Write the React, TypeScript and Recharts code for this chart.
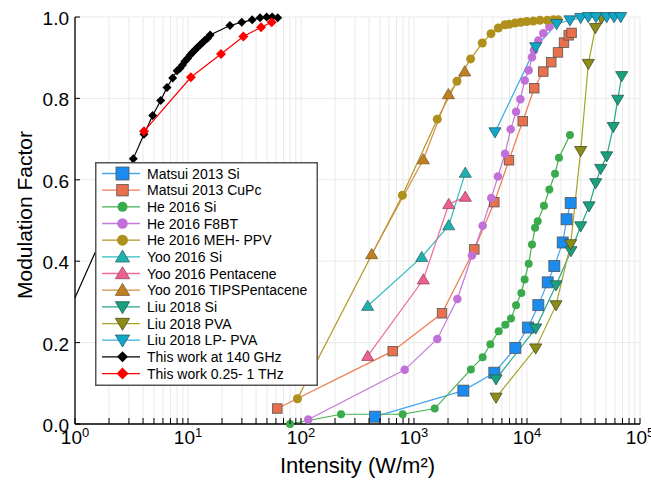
import React from 'react';
import { LineChart, Line, XAxis, YAxis, CartesianGrid, Label } from 'recharts';

// intensity (W/m²) and modulation factor
const matsuiSiI = [452, 2734, 5140, 7890, 10230, 12600, 15250, 17450, 20700, 22400, 24350];
const matsuiSiM = [0.018, 0.082, 0.126, 0.187, 0.237, 0.292, 0.348, 0.388, 0.446, 0.503, 0.543];

const matsuiCuPcI = [61.7, 648, 1770, 3420, 5140, 6930, 9160, 11600, 13940, 16400, 18800, 21250, 23400, 24800];
const matsuiCuPcM = [0.038, 0.179, 0.272, 0.429, 0.545, 0.648, 0.744, 0.825, 0.866, 0.889, 0.913, 0.937, 0.955, 0.961];

const heSiI = [80, 226, 794, 1525, 3190, 4050, 4740, 5620, 6430, 7220, 8000, 8910, 9530, 10350, 11070, 11780, 12440, 14130, 15770, 17700, 19190, 24000];
const heSiM = [0.0, 0.024, 0.024, 0.038, 0.134, 0.164, 0.196, 0.228, 0.244, 0.259, 0.292, 0.322, 0.355, 0.394, 0.441, 0.482, 0.498, 0.536, 0.576, 0.615, 0.654, 0.71];

const heF8btI = [116, 827, 1608, 2420, 3260, 4050, 4830, 5530, 6390, 7170, 8000, 8740, 9550, 10350, 11070, 11530, 12590, 13940, 15780];
const heF8btM = [0.011, 0.133, 0.209, 0.307, 0.414, 0.487, 0.555, 0.608, 0.664, 0.724, 0.767, 0.798, 0.844, 0.869, 0.901, 0.918, 0.942, 0.96, 0.976];

const heMehI = [93, 790, 1608, 2400, 3170, 4020, 4800, 5570, 6390, 6970, 7830, 8800, 9930, 11370, 13030, 15130, 17100, 18920];
const heMehM = [0.062, 0.562, 0.749, 0.842, 0.897, 0.936, 0.959, 0.973, 0.981, 0.982, 0.985, 0.987, 0.989, 0.99, 0.992, 0.992, 0.993, 0.993];

const yooSiI = [389, 1170, 2030, 2845];
const yooSiM = [0.29, 0.41, 0.488, 0.617];

const yooPentI = [389, 1210, 2030, 2845];
const yooPentM = [0.167, 0.355, 0.54, 0.558];

const yooTipsI = [422, 1210, 2014, 2810];
const yooTipsM = [0.417, 0.65, 0.81, 0.866];

const liuSiI = [5320, 11940, 18060, 24500, 29850, 35380, 40550, 44900, 50700, 58000, 63500, 68900];
const liuSiM = [0.11, 0.235, 0.341, 0.425, 0.486, 0.535, 0.592, 0.627, 0.658, 0.73, 0.797, 0.855];

const liuPvaI = [5320, 11940, 18060, 24350, 29850, 34900, 40270, 45700];
const liuPvaM = [0.065, 0.186, 0.292, 0.442, 0.671, 0.885, 0.973, 0.997];

const liuLpI = [5210, 11940, 18300, 24000, 29860, 34860, 40800, 50700, 58900, 67500];
const liuLpM = [0.717, 0.926, 0.983, 0.992, 0.998, 1.0, 1.0, 1.0, 1.0, 1.0];

const work140I = [1.0, 1.7, 2.1, 2.6, 3.28, 4.08, 4.87, 5.73, 6.52, 7.32, 8.0, 8.5, 8.94, 9.4, 9.9, 10.4, 10.96, 11.5, 12.1, 12.77, 13.4, 14.1, 14.9, 15.7, 23.5, 29.9, 37, 43.4, 49.7, 55.5, 62.2];
const work140M = [0.31, 0.454, 0.52, 0.585, 0.652, 0.712, 0.758, 0.795, 0.827, 0.85, 0.868, 0.874, 0.882, 0.891, 0.898, 0.906, 0.913, 0.919, 0.925, 0.931, 0.937, 0.943, 0.948, 0.956, 0.979, 0.987, 0.993, 0.998, 1.0, 1.0, 0.998];

const workTHzI = [4.08, 10.6, 19.6, 30.9, 44.3, 55];
const workTHzM = [0.719, 0.852, 0.909, 0.952, 0.975, 0.987];

const decades = [1, 10, 100, 1000, 10000, 100000];
const minorSteps = [2, 3, 4, 5, 6, 7, 8, 9];
const yTicks = [0, 0.2, 0.4, 0.6, 0.8, 1.0];

const xTicks: number[] = [];
decades.forEach((d, i) => {
  xTicks.push(d);
  if (i < decades.length - 1) minorSteps.forEach((s) => xTicks.push(d * s));
});

const pair = (xs: number[], ys: number[]) => xs.map((x, i) => ({ x, y: ys[i] }));

type Shape = 'square' | 'circle' | 'up' | 'down' | 'diamond';

const series = [
  { name: 'Matsui 2013 Si', data: pair(matsuiSiI, matsuiSiM), line: '#45a6f0', fill: '#1a8cf0', shape: 'square' as Shape, size: 11, edge: '#555' },
  { name: 'Matsui 2013 CuPc', data: pair(matsuiCuPcI, matsuiCuPcM), line: '#f07a52', fill: '#e8704a', shape: 'square' as Shape, size: 9.5, edge: '#555' },
  { name: 'He 2016 Si', data: pair(heSiI, heSiM), line: '#45b050', fill: '#3aaa4c', shape: 'circle' as Shape, size: 8, edge: 'none' },
  { name: 'He 2016 F8BT', data: pair(heF8btI, heF8btM), line: '#c47ad8', fill: '#c070d8', shape: 'circle' as Shape, size: 8.5, edge: 'none' },
  { name: 'He 2016 MEH- PPV', data: pair(heMehI, heMehM), line: '#b39520', fill: '#b0901c', shape: 'circle' as Shape, size: 9, edge: 'none' },
  { name: 'Yoo 2016 Si', data: pair(yooSiI, yooSiM), line: '#30bcbc', fill: '#20b0b0', shape: 'up' as Shape, size: 11, edge: '#3a6a6a' },
  { name: 'Yoo 2016 Pentacene', data: pair(yooPentI, yooPentM), line: '#f06a9a', fill: '#ee5f92', shape: 'up' as Shape, size: 11, edge: '#8a4a5a' },
  { name: 'Yoo 2016 TIPSPentacene', data: pair(yooTipsI, yooTipsM), line: '#d09040', fill: '#c08022', shape: 'up' as Shape, size: 11, edge: '#7a5a2a' },
  { name: 'Liu 2018 Si', data: pair(liuSiI, liuSiM), line: '#22a88e', fill: '#18a080', shape: 'down' as Shape, size: 11, edge: '#2a5a50' },
  { name: 'Liu 2018 PVA', data: pair(liuPvaI, liuPvaM), line: '#a6a426', fill: '#8c8c18', shape: 'down' as Shape, size: 11, edge: '#4a4a20' },
  { name: 'Liu 2018 LP- PVA', data: pair(liuLpI, liuLpM), line: '#34b0e0', fill: '#10a8c8', shape: 'down' as Shape, size: 11, edge: '#2a5a6a' },
  { name: 'This work at 140 GHz', data: pair(work140I, work140M), line: '#000000', fill: '#000000', shape: 'diamond' as Shape, size: 9, edge: 'none' },
  { name: 'This work 0.25- 1 THz', data: pair(workTHzI, workTHzM), line: '#ff0000', fill: '#ff0000', shape: 'diamond' as Shape, size: 10, edge: 'none' },
];

const FONT = '"Liberation Sans", Arial, Helvetica, sans-serif';

const Marker = ({ cx, cy, shape, size, fill, edge }: { cx: number; cy: number; shape: Shape; size: number; fill: string; edge: string }) => {
  const h = size / 2;
  const sw = edge === 'none' ? 0 : 0.8;
  if (shape === 'square') return <rect x={cx - h} y={cy - h} width={size} height={size} fill={fill} stroke={edge} strokeWidth={sw} />;
  if (shape === 'circle') return <circle cx={cx} cy={cy} r={h} fill={fill} />;
  if (shape === 'up')
    return <polygon points={`${cx},${cy - h * 1.05} ${cx + h * 1.1},${cy + h * 0.8} ${cx - h * 1.1},${cy + h * 0.8}`} fill={fill} stroke={edge} strokeWidth={sw} />;
  if (shape === 'down')
    return <polygon points={`${cx},${cy + h * 1.05} ${cx + h * 1.1},${cy - h * 0.8} ${cx - h * 1.1},${cy - h * 0.8}`} fill={fill} stroke={edge} strokeWidth={sw} />;
  return <polygon points={`${cx},${cy - h} ${cx + h},${cy} ${cx},${cy + h} ${cx - h},${cy}`} fill={fill} />;
};

const XTick = (props: any) => {
  const { x, y, payload } = props;
  const v = payload.value as number;
  const exp = Math.round(Math.log10(v));
  const major = Math.abs(v - Math.pow(10, exp)) < 1e-6;
  return (
    <g>
      <line x1={x} y1={y} x2={x} y2={y - 6} stroke="#000" strokeWidth={1} />
      {major && (
        <text x={x} y={y + 20} textAnchor="middle" fontFamily={FONT} fontSize={19} fill="#000">
          10
          <tspan dy={-7} fontSize={13}>
            {exp}
          </tspan>
        </text>
      )}
    </g>
  );
};

const YTick = (props: any) => {
  const { x, y, payload } = props;
  return (
    <g>
      <line x1={x} y1={y} x2={x + 5} y2={y} stroke="#000" strokeWidth={1} />
      <text x={x - 6} y={y + 8} textAnchor="end" fontFamily={FONT} fontSize={19} fill="#000">
        {(payload.value as number).toFixed(1)}
      </text>
    </g>
  );
};

const LegendBox = () => (
  <svg width={223} height={224} style={{ position: 'absolute', left: 95, top: 162 }}>
    <rect x={0.75} y={0.75} width={221.5} height={222.5} fill="#fff" stroke="#555" strokeWidth={1.5} />
    {series.map((s, i) => {
      const cy = 11.5 + i * 16.67;
      return (
        <g key={s.name}>
          <line x1={7} y1={cy} x2={45} y2={cy} stroke={s.line} strokeWidth={1.3} />
          <Marker cx={27.5} cy={cy} shape={s.shape} size={s.size + 2} fill={s.fill} edge={s.edge} />
          <text x={52} y={cy + 5} fontFamily={FONT} fontSize={14} fill="#000">
            {s.name}
          </text>
        </g>
      );
    })}
  </svg>
);

export default function App() {
  return (
    <div style={{ position: 'absolute', left: 0, top: 0, width: 651, height: 485, background: '#fff' }}>
      <LineChart width={651} height={485} margin={{ top: 17, right: 11, left: 0, bottom: 0 }}>
        <CartesianGrid stroke="#e9e9e9" strokeWidth={1} />
        <XAxis
          dataKey="x"
          type="number"
          scale="log"
          domain={[1, 100000]}
          ticks={xTicks}
          interval={0}
          height={61}
          tick={<XTick />}
          tickLine={false}
          tickSize={0}
          tickMargin={0}
          axisLine={{ stroke: '#000', strokeWidth: 1.3 }}
        >
          <Label
            content={() => (
              <text x={357.5} y={473} textAnchor="middle" fontFamily={FONT} fontSize={22} fill="#000">
                Intensity (W/m²)
              </text>
            )}
          />
        </XAxis>
        <YAxis
          dataKey="y"
          type="number"
          domain={[0, 1]}
          ticks={yTicks}
          width={75}
          tick={<YTick />}
          tickLine={false}
          tickSize={0}
          tickMargin={0}
          axisLine={{ stroke: '#000', strokeWidth: 1.3 }}
        >
          <Label
            content={() => (
              <text x={32} y={215} transform="rotate(-90 32 215)" textAnchor="middle" fontFamily={FONT} fontSize={21} fill="#000">
                Modulation Factor
              </text>
            )}
          />
        </YAxis>
        {series.map((s) => (
          <Line
            key={s.name}
            data={s.data}
            dataKey="y"
            name={s.name}
            type="linear"
            stroke={s.line}
            strokeWidth={1.2}
            isAnimationActive={false}
            dot={(p: any) =>
              p.payload.x <= 1 ? (
                <g key={`${s.name}-${p.index}`} />
              ) : (
                <Marker key={`${s.name}-${p.index}`} cx={p.cx} cy={p.cy} shape={s.shape} size={s.size} fill={s.fill} edge={s.edge} />
              )
            }
            activeDot={false}
          />
        ))}
      </LineChart>
      <LegendBox />
    </div>
  );
}
